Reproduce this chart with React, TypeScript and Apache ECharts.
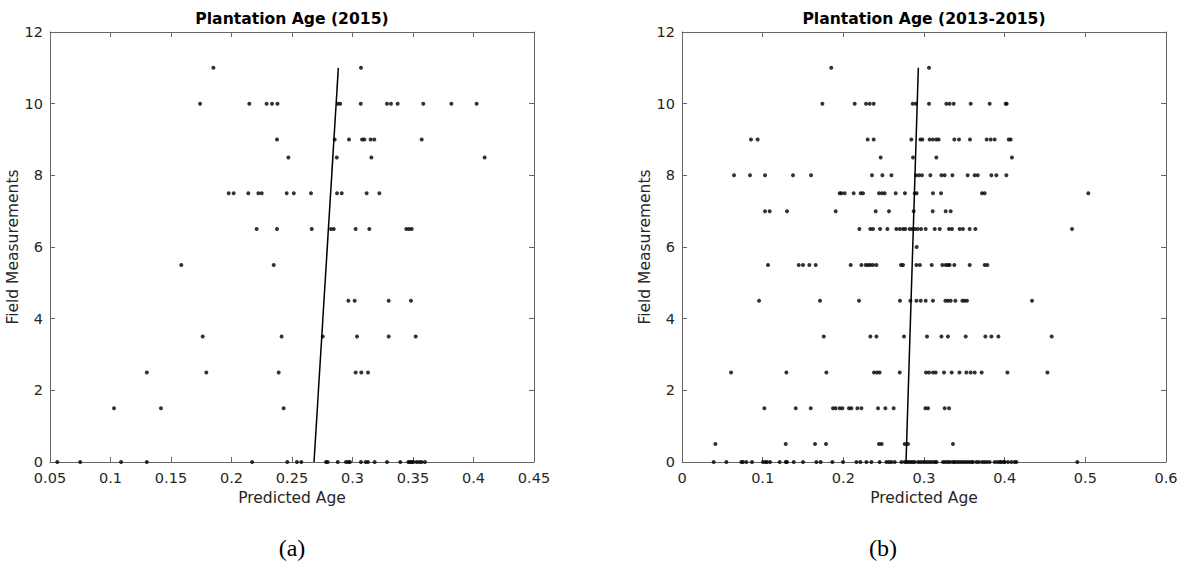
import React, { useEffect, useRef } from "react";
import * as echarts from "echarts";

// Field measurement levels (y) shared by both panels
const fieldLevels = [11, 10, 9, 8.5, 8, 7.5, 7, 6.5, 6, 5.5, 4.5, 3.5, 2.5, 1.5, 0.5, 0];

// Panel (a): predicted ages at each field level
const agesA2015: number[][] = [
  [0.185, 0.307],
  [0.174, 0.2147, 0.229, 0.2335, 0.238, 0.2878, 0.2899, 0.3068, 0.3285, 0.3318, 0.3373, 0.3585, 0.3817, 0.4026],
  [0.2376, 0.2853, 0.2971, 0.3079, 0.3098, 0.315, 0.318, 0.3572],
  [0.247, 0.287, 0.3156, 0.4092],
  [],
  [0.1977, 0.2018, 0.2139, 0.2222, 0.225, 0.2456, 0.2515, 0.2657, 0.2872, 0.2911, 0.3117, 0.3222],
  [],
  [0.2208, 0.2376, 0.2663, 0.2822, 0.2845, 0.3026, 0.3139, 0.3445, 0.3467, 0.3489],
  [],
  [0.1585, 0.2349],
  [0.2966, 0.3018, 0.3299, 0.3483],
  [0.1762, 0.2414, 0.2754, 0.3037, 0.3299, 0.3522],
  [0.13, 0.1792, 0.239, 0.3026, 0.3073, 0.3128],
  [0.1029, 0.1417, 0.2431],
  [],
  [0.056, 0.075, 0.1087, 0.13, 0.217, 0.2461, 0.2541, 0.2577, 0.2781, 0.2795, 0.2878, 0.2946, 0.2966, 0.2979,
    0.307, 0.3109, 0.3128, 0.3183, 0.3285, 0.3395, 0.3461, 0.3475, 0.3489, 0.3503, 0.353, 0.3552, 0.3572, 0.3599],
];

// Panel (b): predicted ages at each field level
const agesB2013to2015: number[][] = [
  [0.185, 0.3062],
  [0.174, 0.2141, 0.2281, 0.2327, 0.2376, 0.286, 0.29, 0.3062, 0.3277, 0.3318, 0.3368, 0.3579, 0.3814, 0.4013, 0.4025],
  [0.0855, 0.0938, 0.2302, 0.2376, 0.2843, 0.2955, 0.298, 0.307, 0.3111, 0.3153, 0.3182, 0.3376, 0.3434, 0.357,
    0.3777, 0.3827, 0.3876, 0.405, 0.4075],
  [0.2463, 0.2864, 0.3153, 0.409],
  [0.0645, 0.0843, 0.1029, 0.1376, 0.16, 0.2355, 0.2484, 0.2596, 0.29, 0.2938, 0.2975, 0.3079, 0.3216, 0.3256,
    0.3352, 0.3541, 0.3628, 0.3666, 0.3835, 0.3897, 0.4021],
  [0.1955, 0.1976, 0.2017, 0.2128, 0.2215, 0.2244, 0.2442, 0.2479, 0.2513, 0.2649, 0.2764, 0.2885, 0.2909, 0.3111,
    0.3211, 0.3719, 0.3752, 0.5037],
  [0.1029, 0.1087, 0.1302, 0.1905, 0.2401, 0.2566, 0.2872, 0.3108, 0.3269, 0.3331],
  [0.2199, 0.2335, 0.2368, 0.2455, 0.2546, 0.2657, 0.2699, 0.274, 0.2769, 0.2823, 0.2856, 0.2888, 0.2922, 0.2963,
    0.3021, 0.3133, 0.3195, 0.331, 0.3347, 0.3442, 0.3483, 0.3566, 0.3637, 0.4835],
  [0.2909],
  [0.1066, 0.1447, 0.15, 0.1579, 0.1657, 0.2091, 0.2224, 0.2277, 0.2306, 0.2335, 0.2368, 0.241, 0.2715, 0.274,
    0.2906, 0.295, 0.3095, 0.3228, 0.3269, 0.3297, 0.3318, 0.3376, 0.3566, 0.3752, 0.3786],
  [0.0955, 0.1711, 0.2194, 0.2702, 0.2831, 0.2906, 0.2959, 0.3021, 0.3111, 0.3265, 0.3297, 0.3331, 0.3389, 0.3476,
    0.3504, 0.3533, 0.4339],
  [0.1757, 0.2335, 0.241, 0.2752, 0.3037, 0.3216, 0.3297, 0.3517, 0.3761, 0.3835, 0.3922, 0.4583],
  [0.0608, 0.1294, 0.179, 0.238, 0.2417, 0.245, 0.2699, 0.3025, 0.3062, 0.3111, 0.3145, 0.3248, 0.3343, 0.3439,
    0.3525, 0.3579, 0.3628, 0.3715, 0.4034, 0.453],
  [0.1021, 0.141, 0.1596, 0.1872, 0.1905, 0.1955, 0.1988, 0.207, 0.21, 0.2174, 0.2224, 0.243, 0.2521, 0.2624,
    0.3017, 0.305, 0.3256, 0.331],
  [0.0414, 0.1286, 0.1649, 0.1785, 0.2442, 0.2475, 0.2761, 0.2802, 0.3359],
  [0.0393, 0.055, 0.0736, 0.0756, 0.0798, 0.0868, 0.1004, 0.1034, 0.1054, 0.1091, 0.1211, 0.1286, 0.1302, 0.1385,
    0.15, 0.1666, 0.1719, 0.1864, 0.1996, 0.2162, 0.2211, 0.2286, 0.2348, 0.245, 0.2534, 0.2566, 0.2596, 0.2637,
    0.272, 0.2761, 0.2785, 0.281, 0.2835, 0.286, 0.2885, 0.2926, 0.2955, 0.2985, 0.3015, 0.3045, 0.3075, 0.3105,
    0.3135, 0.3155, 0.3235, 0.3265, 0.3295, 0.3325, 0.336, 0.338, 0.341, 0.344, 0.347, 0.35, 0.353, 0.356, 0.359,
    0.3607, 0.365, 0.368, 0.372, 0.375, 0.378, 0.3814, 0.3876, 0.391, 0.394, 0.3959, 0.3988, 0.4, 0.4041, 0.4083,
    0.4124, 0.4145, 0.4901],
];

// Fitted lines: [predicted age, field measurement] end points
const fitLineA = [[0.2682, 0], [0.2883, 11]];
const fitLineB = [[0.2777, 0], [0.293, 11]];

// Axis settings
const xRangeA = { min: 0.05, max: 0.45, interval: 0.05 };
const xRangeB = { min: 0, max: 0.6, interval: 0.1 };
const yRange = { min: 0, max: 12, interval: 2 };

const titles = ["Plantation Age (2015)", "Plantation Age (2013-2015)"];
const xName = "Predicted Age";
const yName = "Field Measurements";
const panelLabels = ["(a)", "(b)"];

function toPoints(levels: number[], rows: number[][]) {
  const pts: number[][] = [];
  rows.forEach((row, i) => row.forEach((x) => pts.push([x, levels[i]])));
  return pts;
}

const FONT = "DejaVu Sans";
const AXIS_COLOR = "#666666";
const TEXT_COLOR = "#262626";

function xAxes(gridIndex: number, range: any) {
  const base = {
    gridIndex,
    type: "value",
    ...range,
    splitLine: { show: false },
    axisLine: { show: true, onZero: false, lineStyle: { color: AXIS_COLOR, width: 1 } },
    axisTick: { show: true, inside: true, length: 5, lineStyle: { color: AXIS_COLOR } },
  };
  return [
    {
      ...base,
      position: "bottom",
      axisLabel: { color: TEXT_COLOR, fontSize: 14.5, fontFamily: FONT, margin: 8 },
      name: xName,
      nameLocation: "middle",
      nameGap: 24,
      nameTextStyle: { color: TEXT_COLOR, fontSize: 15.5, fontFamily: FONT },
    },
    { ...base, position: "top", axisLabel: { show: false } },
  ];
}

function yAxes(gridIndex: number) {
  const base = {
    gridIndex,
    type: "value",
    ...yRange,
    splitLine: { show: false },
    axisLine: { show: true, onZero: false, lineStyle: { color: AXIS_COLOR, width: 1 } },
    axisTick: { show: true, inside: true, length: 5, lineStyle: { color: AXIS_COLOR } },
  };
  return [
    {
      ...base,
      position: "left",
      axisLabel: { color: TEXT_COLOR, fontSize: 14.5, fontFamily: FONT, margin: 7 },
      name: yName,
      nameLocation: "middle",
      nameGap: 23,
      nameTextStyle: { color: TEXT_COLOR, fontSize: 15.5, fontFamily: FONT },
    },
    { ...base, position: "right", axisLabel: { show: false } },
  ];
}

export default function App() {
  const ref = useRef<HTMLDivElement>(null);
  useEffect(() => {
    if (!ref.current) return;
    const chart = echarts.init(ref.current, null, { renderer: "svg" });
    const grids = [
      { left: 50, top: 32, width: 484, height: 430 },
      { left: 682, top: 32, width: 484, height: 430 },
    ];
    const scatterStyle = { color: "#000000" };
    chart.setOption({
      animation: false,
      backgroundColor: "#ffffff",
      grid: grids,
      xAxis: [...xAxes(0, xRangeA), ...xAxes(1, xRangeB)],
      yAxis: [...yAxes(0), ...yAxes(1)],
      series: [
        {
          type: "scatter",
          xAxisIndex: 0,
          yAxisIndex: 0,
          symbolSize: 4,
          itemStyle: scatterStyle,
          data: toPoints(fieldLevels, agesA2015),
        },
        {
          type: "line",
          xAxisIndex: 0,
          yAxisIndex: 0,
          symbol: "none",
          lineStyle: { color: "#000000", width: 1.5 },
          data: fitLineA,
        },
        {
          type: "scatter",
          xAxisIndex: 2,
          yAxisIndex: 2,
          symbolSize: 4,
          itemStyle: scatterStyle,
          data: toPoints(fieldLevels, agesB2013to2015),
        },
        {
          type: "line",
          xAxisIndex: 2,
          yAxisIndex: 2,
          symbol: "none",
          lineStyle: { color: "#000000", width: 1.5 },
          data: fitLineB,
        },
      ],
      graphic: [
        {
          type: "text",
          x: 292,
          y: 19,
          style: {
            text: titles[0],
            textAlign: "center",
            textVerticalAlign: "middle",
            font: `bold 15.6px "${FONT}"`,
            fill: "#000000",
          },
        },
        {
          type: "text",
          x: 924,
          y: 19,
          style: {
            text: titles[1],
            textAlign: "center",
            textVerticalAlign: "middle",
            font: `bold 15.6px "${FONT}"`,
            fill: "#000000",
          },
        },
        {
          type: "text",
          x: 292,
          y: 548,
          style: {
            text: panelLabels[0],
            textAlign: "center",
            textVerticalAlign: "middle",
            font: `24px "Liberation Serif"`,
            fill: "#000000",
          },
        },
        {
          type: "text",
          x: 883,
          y: 548,
          style: {
            text: panelLabels[1],
            textAlign: "center",
            textVerticalAlign: "middle",
            font: `24px "Liberation Serif"`,
            fill: "#000000",
          },
        },
      ],
    });
    return () => chart.dispose();
  }, []);
  return (
    <div
      ref={ref}
      style={{ position: "fixed", left: 0, top: 0, width: 1196, height: 564, background: "#ffffff" }}
    />
  );
}
